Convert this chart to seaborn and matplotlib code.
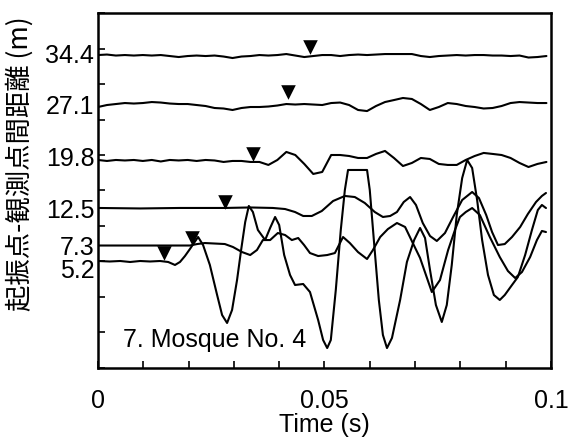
import numpy as np
import pandas as pd
import seaborn as sns
import matplotlib.pyplot as plt

# source-receiver distance of each trace (m)
dists = [34.4, 27.1, 19.8, 12.5, 7.3, 5.2]
dist_labels = ["34.4", "27.1", "19.8", "12.5", "7.3", "5.2"]

# first-arrival picks (s) and how far the pick marker sits above the trace (m)
pick_t = [0.0468, 0.0419, 0.0342, 0.0280, 0.0208, 0.0146]
pick_h = [0.88, 1.84, 0.40, 0.95, 0.94, 0.93]

# far traces, read on an even time grid (amplitude in axis units, m)
t_far = np.linspace(0, 0.099, 51)
amp_344 = [-0.32, -0.25, -0.39, -0.32, -0.39, -0.32, -0.39, -0.32, -0.46, -0.60,
           -0.46, -0.39, -0.46, -0.39, -0.53, -0.74, -0.53, -0.46, -0.32, -0.39,
           -0.32, -0.18, -0.39, -0.60, -0.46, -0.32, -0.32, -0.46, -0.32, -0.25,
           -0.32, -0.25, -0.18, -0.18, -0.18, -0.18, -0.46, -0.60, -0.46, -0.39,
           -0.32, -0.39, -0.32, -0.32, -0.39, -0.39, -0.46, -0.39, -0.67, -0.60, -0.46]
amp_271 = [-0.34, -0.06, 0.08, 0.22, 0.15, 0.22, 0.36, 0.29, 0.15, 0.08,
           0.08, -0.06, -0.20, -0.48, -0.55, -0.76, -0.48, -0.34, -0.34, -0.27,
           -0.13, 0.08, 0.01, 0.08, 0.01, -0.06, 0.22, 0.29, -0.06, -0.76,
           -0.91, -0.20, 0.36, 0.64, 0.93, 0.79, 0.08, -0.76, -0.34, 0.22,
           0.08, -0.20, -0.34, -0.55, -0.48, -0.20, 0.22, 0.36, 0.29, 0.22, 0.22]
amp_198 = [-0.50, -0.64, -0.50, -0.57, -0.50, -0.64, -0.50, -0.71, -0.50, -0.57,
           -0.50, -0.64, -0.50, -0.57, -0.78, -0.64, -0.64, -0.78, -0.78, -1.20,
           -0.50, 0.63, 0.20, -1.06, -2.47, -2.19, 0.20, 0.20, 0.06, -0.22,
           -0.22, 0.35, 0.77, -0.22, -1.35, -0.92, -0.22, -0.36, -1.06, -1.20,
           -1.20, -0.50, 0.06, 0.49, 0.35, 0.20, -0.22, -0.92, -1.49, -1.06, -0.78]

# near traces, read at their turning points
t_125 = [0, 0.0093, 0.0181, 0.0280, 0.0336, 0.0386, 0.0413, 0.0435, 0.0453, 0.0472,
         0.0494, 0.0519, 0.0545, 0.0567, 0.0589, 0.0611, 0.0629, 0.0645, 0.0660, 0.0675,
         0.0689, 0.0702, 0.0717, 0.0733, 0.0748, 0.0766, 0.0784, 0.0804, 0.0826, 0.0841,
         0.0857, 0.0870, 0.0883, 0.0898, 0.0914, 0.0932, 0.0949, 0.0967, 0.0980, 0.0989]
amp_125 = [0.04, -0.03, 0.04, 0.04, 0.11, 0.04, -0.11, -0.53, -1.09, -1.09,
           -0.39, 1.02, 1.73, 1.58, 0.74, -0.53, -1.23, -1.09, -0.53, 0.88,
           1.58, 0.46, -2.08, -3.91, -4.61, -3.49, -1.23, 1.16, 2.29, 1.44,
           -0.95, -3.35, -5.18, -5.04, -4.05, -2.64, -0.81, 0.88, 1.73, 2.15]

t_73 = [0, 0.0203, 0.0219, 0.0236, 0.0258, 0.0280, 0.0298, 0.0318, 0.0336, 0.0351,
        0.0364, 0.0380, 0.0397, 0.0413, 0.0428, 0.0442, 0.0455, 0.0468, 0.0486, 0.0506,
        0.0523, 0.0541, 0.0556, 0.0574, 0.0594, 0.0607, 0.0623, 0.0640, 0.0660, 0.0678,
        0.0695, 0.0711, 0.0724, 0.0737, 0.0755, 0.0773, 0.0788, 0.0799, 0.0812, 0.0826,
        0.0843, 0.0865, 0.0887, 0.0905, 0.0921, 0.0936, 0.0954, 0.0969, 0.0980, 0.0989]
amp_73 = [-0.05, -0.05, 0.16, 0.30, 0.23, 0.16, -0.26, -0.97, -1.39, -0.68,
          0.72, 0.72, 1.71, 1.43, 0.72, 1.01, 0.02, -1.11, -1.53, -1.39,
          -1.11, 1.15, 0.30, -0.97, -1.95, -0.68, 1.15, 2.27, 3.12, 2.56,
          0.30, -1.80, -4.20, -6.60, -4.91, -0.68, 2.13, 3.96, 4.67, 5.23,
          4.25, 1.15, -1.67, -3.64, -4.63, -3.78, -1.67, 0.72, 2.00, 1.85]

t_52 = [0, 0.0026, 0.0049, 0.0071, 0.0093, 0.0115, 0.0137, 0.0155, 0.0170, 0.0181,
        0.0192, 0.0203, 0.0212, 0.0221, 0.0232, 0.0247, 0.0263, 0.0274, 0.0285, 0.0296,
        0.0307, 0.0316, 0.0325, 0.0333, 0.0342, 0.0353, 0.0369, 0.0380, 0.0391, 0.0400,
        0.0411, 0.0424, 0.0435, 0.0453, 0.0468, 0.0486, 0.0497, 0.0506, 0.0514, 0.0525,
        0.0536, 0.0545, 0.0552, 0.0594, 0.0600, 0.0609, 0.0620, 0.0629, 0.0638, 0.0649,
        0.0667, 0.0682, 0.0698, 0.0711, 0.0722, 0.0733, 0.0746, 0.0759, 0.0770, 0.0781,
        0.0792, 0.0804, 0.0815, 0.0826, 0.0837, 0.0848, 0.0861, 0.0874, 0.0887, 0.0898,
        0.0914, 0.0927, 0.0943, 0.0958, 0.0971, 0.0980, 0.0989]
amp_52 = [-0.13, -0.20, -0.13, -0.27, -0.13, -0.20, -0.13, -0.27, -0.69, -0.27,
          0.57, 1.56, 2.41, 3.25, 2.12, -0.69, -4.92, -7.74, -8.86, -7.03,
          -2.81, 1.42, 5.36, 7.62, 6.77, 4.24, 2.83, 4.52, 6.07, 4.94,
          0.72, -2.10, -3.51, -3.37, -4.50, -8.44, -11.26, -12.39, -11.26, -4.21,
          4.24, 9.87, 12.69, 12.69, 9.87, 2.83, -5.62, -10.55, -12.39, -10.97,
          -5.62, -0.27, 2.83, 4.52, 3.11, -1.40, -6.33, -8.72, -6.33, -0.69,
          6.35, 11.56, 14.10, 12.97, 8.46, 2.83, -2.10, -4.92, -5.62, -4.92,
          -3.51, -2.38, 0.72, 4.24, 7.05, 7.76, 7.33]

times = [t_far, t_far, t_far, t_125, t_73, t_52]
amps = [amp_344, amp_271, amp_198, amp_125, amp_73, amp_52]

frames = []
for d, t, a in zip(dists, times, amps):
    frames.append(pd.DataFrame({"time": t, "y": d + np.asarray(a), "trace": d}))
traces = pd.concat(frames, ignore_index=True)

picks = pd.DataFrame({"time": pick_t, "y": np.asarray(dists) + np.asarray(pick_h)})

sns.set_style("ticks", {"axes.edgecolor": "black", "xtick.color": "black",
                        "ytick.color": "black", "text.color": "black",
                        "axes.labelcolor": "black"})
plt.rcParams["font.family"] = ["Liberation Sans", "Noto Sans CJK JP", "DejaVu Sans"]

fig = plt.figure(figsize=(5.69, 4.44), dpi=100)
ax = fig.add_axes([0.1722, 0.1712, 0.7961, 0.7995])

sns.lineplot(data=traces, x="time", y="y", units="trace", estimator=None, sort=False,
             color="black", lw=1.5, ax=ax)
sns.scatterplot(data=picks, x="time", y="y", marker="v", s=110, color="black",
                linewidth=0, ax=ax, zorder=3)

ax.set_xlim(0, 0.1)
ax.set_ylim(-10, 40)

ax.set_xticks([0, 0.05, 0.1], ["0", "0.05", "0.1"])
ax.set_xticks(np.arange(0, 0.1001, 0.01), minor=True)
ax.tick_params(axis="x", which="both", direction="in", length=5, width=1.2,
               pad=15, labelsize=18, top=False)
ax.set_yticks(np.arange(-10, 41, 5))
ax.set_yticklabels([])
ax.tick_params(axis="y", direction="in", length=5, width=1.2, right=False)

for side in ["left", "right", "top", "bottom"]:
    ax.spines[side].set_linewidth(1.8)
    ax.spines[side].set_color("black")

# distance labels beside each trace, pushed apart where they would collide
prev = None
for d, lab in zip(dists, dist_labels):
    y = d - 0.4
    if prev is not None and prev - y < 3.2:
        y = prev - 3.2
    ax.text(-0.008, y, lab, transform=ax.get_yaxis_transform(), ha="right",
            va="center", fontsize=18)
    prev = y

ax.text(0.055, 0.079, "7. Mosque No. 4", transform=ax.transAxes, fontsize=18,
        ha="left", va="center")

ax.set_xlabel("Time (s)", fontsize=18, labelpad=0)
ax.set_ylabel("起振点-観測点間距離 (m)", fontsize=19,
              family=["Noto Sans CJK JP", "DejaVu Sans"])
ax.yaxis.set_label_coords(-0.142, 0.575)

fig.savefig("out.png", dpi=100)
